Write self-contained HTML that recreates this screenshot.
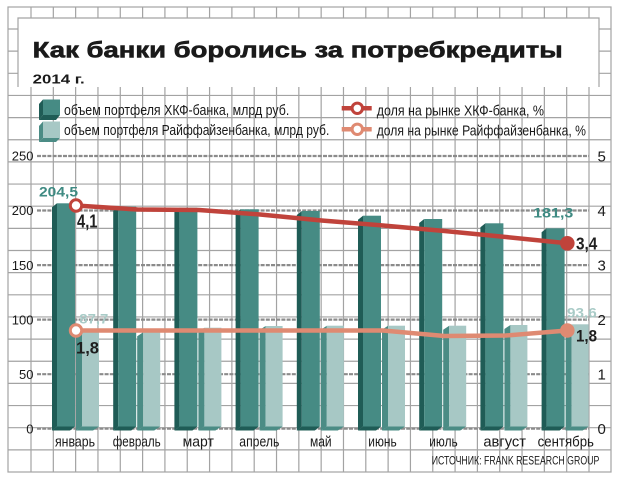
<!DOCTYPE html>
<html><head><meta charset="utf-8"><style>
html,body{margin:0;padding:0;background:#fff;}
svg{display:block;font-family:"Liberation Sans","DejaVu Sans",sans-serif;}
</style></head><body>
<svg width="621" height="483" viewBox="0 0 621 483" xmlns="http://www.w3.org/2000/svg">
<rect width="621" height="483" fill="#fff"/>
<!-- grid -->
<g stroke="#a3a3a3" stroke-width="1.2" fill="none">
<path d="M31,7V472M53.32,7V472M75.64,7V472M97.96,7V472M120.28,7V472M142.6,7V472M164.92,7V472M187.24,7V472M209.56,7V472M231.88,7V472M254.2,7V472M276.52,7V472M298.84,7V472M321.16,7V472M343.48,7V472M365.8,7V472M388.12,7V472M410.44,7V472M432.76,7V472M455.08,7V472M477.4,7V472M499.72,7V472M522.04,7V472M544.36,7V472M566.68,7V472M589,7V472"/>
<path d="M8,29H611M8,51.15H611M8,73.3H611M8,95.45H611M8,117.6H611M8,139.75H611M8,161.9H611M8,184.05H611M8,206.2H611M8,228.35H611M8,250.5H611M8,272.65H611M8,294.8H611M8,316.95H611M8,339.1H611M8,361.25H611M8,383.4H611M8,405.55H611M8,427.7H611M8,449.85H611"/>
<rect x="8" y="7" width="603" height="465"/>
</g>
<rect x="18" y="18" width="581" height="69" fill="#fff"/>
<path d="M18,87V18H599V87" stroke="#a3a3a3" stroke-width="1.2" fill="none"/>

<!-- title -->
<text x="32.7" y="57.3" font-size="22" font-weight="bold" fill="#1a1a1a" stroke="#1a1a1a" stroke-width="0.6" textLength="530" lengthAdjust="spacingAndGlyphs">Как банки боролись за потребкредиты</text>
<text x="32.7" y="83.3" font-size="13" font-weight="bold" fill="#1a1a1a" textLength="52" lengthAdjust="spacingAndGlyphs">2014 г.</text>

<!-- legend -->
<polygon points="43,99.5 39,104 39,120 43,115" fill="#1f5c56"/>
<polygon points="43,115 60,115 56,120 39,120" fill="#1f5c56"/>
<rect x="43" y="99.5" width="17" height="15.5" fill="#468b84"/>
<polygon points="43,121.5 39,126 39,142 43,138" fill="#4b8c85"/>
<polygon points="43,138 60,138 56,142 39,142" fill="#4b8c85"/>
<rect x="43" y="121.5" width="17" height="16.5" fill="#a7c8c5"/>
<g font-size="15" fill="#1a1a1a">
<text x="64" y="115" textLength="225.3" lengthAdjust="spacingAndGlyphs">объем портфеля ХКФ-банка, млрд руб.</text>
<text x="64" y="135" textLength="265.3" lengthAdjust="spacingAndGlyphs">объем портфеля Райффайзенбанка, млрд руб.</text>
<text x="376.7" y="115.3" textLength="167.3" lengthAdjust="spacingAndGlyphs">доля на рынке ХКФ-банка, %</text>
<text x="376.7" y="135.5" textLength="209.3" lengthAdjust="spacingAndGlyphs">доля на рынке Райффайзенбанка, %</text>
</g>
<line x1="341.7" y1="108.3" x2="371.7" y2="108.3" stroke="#c0433b" stroke-width="4.5"/>
<circle cx="357.3" cy="108.3" r="5.2" fill="#fff" stroke="#c0433b" stroke-width="3"/>
<line x1="341.7" y1="129.3" x2="371.7" y2="129.3" stroke="#df8a72" stroke-width="4.5"/>
<circle cx="357.3" cy="129.3" r="5.2" fill="#fff" stroke="#df8a72" stroke-width="3"/>

<!-- dashed value lines -->
<g stroke="#8b8b8b" stroke-width="2.2" stroke-dasharray="4 1.2">
<path d="M37,156H589M37,210.5H589M37,265.1H589M37,319.6H589M37,374.2H589M37,428.7H589"/>
</g>
<!-- axis labels -->
<g font-size="13" fill="#1a1a1a" text-anchor="end">
<text x="33.5" y="160.7">250</text>
<text x="33.5" y="215.2">200</text>
<text x="33.5" y="269.8">150</text>
<text x="33.5" y="324.3">100</text>
<text x="33.5" y="378.9">50</text>
<text x="33.5" y="433.4">0</text>
</g>
<g font-size="15" fill="#1a1a1a">
<text x="597.5" y="161.3">5</text>
<text x="597.5" y="216">4</text>
<text x="597.5" y="270.5">3</text>
<text x="597.5" y="325">2</text>
<text x="597.5" y="379.6">1</text>
<text x="597.5" y="434.2">0</text>
</g>

<!-- bars -->
<g id="bars">
<!-- dark: x0, top -->
<polygon points="57,203.3 52,207.3 52,430.5 57,426.5" fill="#1f5c56"/><polygon points="57,426.5 75,426.5 70,430.5 52,430.5" fill="#1f5c56"/><rect x="57" y="203.3" width="18" height="223.2" fill="#468b84"/>
<polygon points="118.2,206.7 113.2,210.7 113.2,430.5 118.2,426.5" fill="#1f5c56"/><polygon points="118.2,426.5 136.2,426.5 131.2,430.5 113.2,430.5" fill="#1f5c56"/><rect x="118.2" y="206.7" width="18" height="219.8" fill="#468b84"/>
<polygon points="179.4,207.7 174.4,211.7 174.4,430.5 179.4,426.5" fill="#1f5c56"/><polygon points="179.4,426.5 197.4,426.5 192.4,430.5 174.4,430.5" fill="#1f5c56"/><rect x="179.4" y="207.7" width="18" height="218.8" fill="#468b84"/>
<polygon points="240.6,209.3 235.6,213.3 235.6,430.5 240.6,426.5" fill="#1f5c56"/><polygon points="240.6,426.5 258.6,426.5 253.6,430.5 235.6,430.5" fill="#1f5c56"/><rect x="240.6" y="209.3" width="18" height="217.2" fill="#468b84"/>
<polygon points="301.8,211 296.8,215 296.8,430.5 301.8,426.5" fill="#1f5c56"/><polygon points="301.8,426.5 319.8,426.5 314.8,430.5 296.8,430.5" fill="#1f5c56"/><rect x="301.8" y="211" width="18" height="215.5" fill="#468b84"/>
<polygon points="363,215.7 358,219.7 358,430.5 363,426.5" fill="#1f5c56"/><polygon points="363,426.5 381,426.5 376,430.5 358,430.5" fill="#1f5c56"/><rect x="363" y="215.7" width="18" height="210.8" fill="#468b84"/>
<polygon points="424.2,219 419.2,223 419.2,430.5 424.2,426.5" fill="#1f5c56"/><polygon points="424.2,426.5 442.2,426.5 437.2,430.5 419.2,430.5" fill="#1f5c56"/><rect x="424.2" y="219" width="18" height="207.5" fill="#468b84"/>
<polygon points="485.4,223.3 480.4,227.3 480.4,430.5 485.4,426.5" fill="#1f5c56"/><polygon points="485.4,426.5 503.4,426.5 498.4,430.5 480.4,430.5" fill="#1f5c56"/><rect x="485.4" y="223.3" width="18" height="203.2" fill="#468b84"/>
<polygon points="546.6,228.3 541.6,232.3 541.6,430.5 546.6,426.5" fill="#1f5c56"/><polygon points="546.6,426.5 564.6,426.5 559.6,430.5 541.6,430.5" fill="#1f5c56"/><rect x="546.6" y="228.3" width="18" height="198.2" fill="#468b84"/>
<!-- light: xl = x0+25 -->
<polygon points="82,330.7 76,334.7 76,430.5 82,426.5" fill="#4b8c85"/><polygon points="82,426.5 99,426.5 93,430.5 76,430.5" fill="#4b8c85"/><rect x="82" y="330.7" width="17" height="95.8" fill="#a7c8c5"/>
<polygon points="143.2,332.3 137.2,336.3 137.2,430.5 143.2,426.5" fill="#4b8c85"/><polygon points="143.2,426.5 160.2,426.5 154.2,430.5 137.2,430.5" fill="#4b8c85"/><rect x="143.2" y="332.3" width="17" height="94.2" fill="#a7c8c5"/>
<polygon points="204.4,327.7 198.4,331.7 198.4,430.5 204.4,426.5" fill="#4b8c85"/><polygon points="204.4,426.5 221.4,426.5 215.4,430.5 198.4,430.5" fill="#4b8c85"/><rect x="204.4" y="327.7" width="17" height="98.8" fill="#a7c8c5"/>
<polygon points="265.6,326 259.6,330 259.6,430.5 265.6,426.5" fill="#4b8c85"/><polygon points="265.6,426.5 282.6,426.5 276.6,430.5 259.6,430.5" fill="#4b8c85"/><rect x="265.6" y="326" width="17" height="100.5" fill="#a7c8c5"/>
<polygon points="326.8,325.7 320.8,329.7 320.8,430.5 326.8,426.5" fill="#4b8c85"/><polygon points="326.8,426.5 343.8,426.5 337.8,430.5 320.8,430.5" fill="#4b8c85"/><rect x="326.8" y="325.7" width="17" height="100.8" fill="#a7c8c5"/>
<polygon points="388,325.7 382,329.7 382,430.5 388,426.5" fill="#4b8c85"/><polygon points="388,426.5 405,426.5 399,430.5 382,430.5" fill="#4b8c85"/><rect x="388" y="325.7" width="17" height="100.8" fill="#a7c8c5"/>
<polygon points="449.2,325.7 443.2,329.7 443.2,430.5 449.2,426.5" fill="#4b8c85"/><polygon points="449.2,426.5 466.2,426.5 460.2,430.5 443.2,430.5" fill="#4b8c85"/><rect x="449.2" y="325.7" width="17" height="100.8" fill="#a7c8c5"/>
<polygon points="510.4,325 504.4,329 504.4,430.5 510.4,426.5" fill="#4b8c85"/><polygon points="510.4,426.5 527.4,426.5 521.4,430.5 504.4,430.5" fill="#4b8c85"/><rect x="510.4" y="325" width="17" height="101.5" fill="#a7c8c5"/>
<polygon points="571.6,324.3 565.6,328.3 565.6,430.5 571.6,426.5" fill="#4b8c85"/><polygon points="571.6,426.5 588.6,426.5 582.6,430.5 565.6,430.5" fill="#4b8c85"/><rect x="571.6" y="324.3" width="17" height="102.2" fill="#a7c8c5"/>
</g>

<!-- bar value labels -->
<text x="39" y="196.5" font-size="14" font-weight="bold" fill="#3e8a82" textLength="39" lengthAdjust="spacingAndGlyphs">204,5</text>
<text x="533.3" y="217.3" font-size="13.5" font-weight="bold" fill="#3e8a82" textLength="40" lengthAdjust="spacingAndGlyphs">181,3</text>
<text x="79.3" y="323.5" font-size="14" font-weight="bold" fill="#a9cbc7" textLength="29" lengthAdjust="spacingAndGlyphs">87,7</text>
<text x="567" y="317.5" font-size="14" font-weight="bold" fill="#a9cbc7" textLength="29.7" lengthAdjust="spacingAndGlyphs">93,6</text>

<!-- lines -->
<polyline points="76,205.5 137.4,209.5 198.8,210 260.2,214.5 321.6,220.5 383,225.5 444.5,231 505.9,237 567.3,243.3" fill="none" stroke="#c0433b" stroke-width="4.5" stroke-linejoin="round"/>
<polyline points="76,330.5 137.4,330.5 198.8,330.5 260.2,330.5 321.6,330.5 383,330.5 444.5,336 505.9,335.5 567.3,330.5" fill="none" stroke="#df8a72" stroke-width="4.5" stroke-linejoin="round"/>
<circle cx="76" cy="205.5" r="5.7" fill="#fff" stroke="#c0433b" stroke-width="3"/>
<circle cx="567.3" cy="243.3" r="7.3" fill="#c0433b"/>
<circle cx="76" cy="330.5" r="5.7" fill="#fff" stroke="#df8a72" stroke-width="3"/>
<circle cx="567.3" cy="330.5" r="7.3" fill="#df8a72"/>

<!-- share labels -->
<g font-weight="bold" fill="#1e1e1e">
<text x="77" y="227.3" font-size="18" textLength="20.5" lengthAdjust="spacingAndGlyphs">4,1</text>
<text x="576" y="249.3" font-size="17.5" textLength="21.3" lengthAdjust="spacingAndGlyphs">3,4</text>
<text x="76" y="353.3" font-size="17" textLength="23" lengthAdjust="spacingAndGlyphs">1,8</text>
<text x="576" y="341.7" font-size="17" textLength="21" lengthAdjust="spacingAndGlyphs">1,8</text>
</g>

<!-- month labels -->
<g font-size="15" fill="#1a1a1a" text-anchor="middle">
<text x="75" y="446.7" textLength="40" lengthAdjust="spacingAndGlyphs">январь</text>
<text x="136.7" y="446.7" textLength="48" lengthAdjust="spacingAndGlyphs">февраль</text>
<text x="198.3" y="446.7" textLength="31.3" lengthAdjust="spacingAndGlyphs">март</text>
<text x="259.3" y="446.7" textLength="40" lengthAdjust="spacingAndGlyphs">апрель</text>
<text x="320.8" y="446.7" textLength="21.7" lengthAdjust="spacingAndGlyphs">май</text>
<text x="382.5" y="446.7" textLength="28.4" lengthAdjust="spacingAndGlyphs">июнь</text>
<text x="443.5" y="446.7" textLength="28.4" lengthAdjust="spacingAndGlyphs">июль</text>
<text x="504.7" y="446.7" textLength="42.7" lengthAdjust="spacingAndGlyphs">август</text>
<text x="565.8" y="446.7" textLength="56.3" lengthAdjust="spacingAndGlyphs">сентябрь</text>
</g>
<text x="431.7" y="464.3" font-size="11.5" fill="#1a1a1a" textLength="167.6" lengthAdjust="spacingAndGlyphs">ИСТОЧНИК: FRANK RESEARCH GROUP</text>
</svg>
</body></html>
